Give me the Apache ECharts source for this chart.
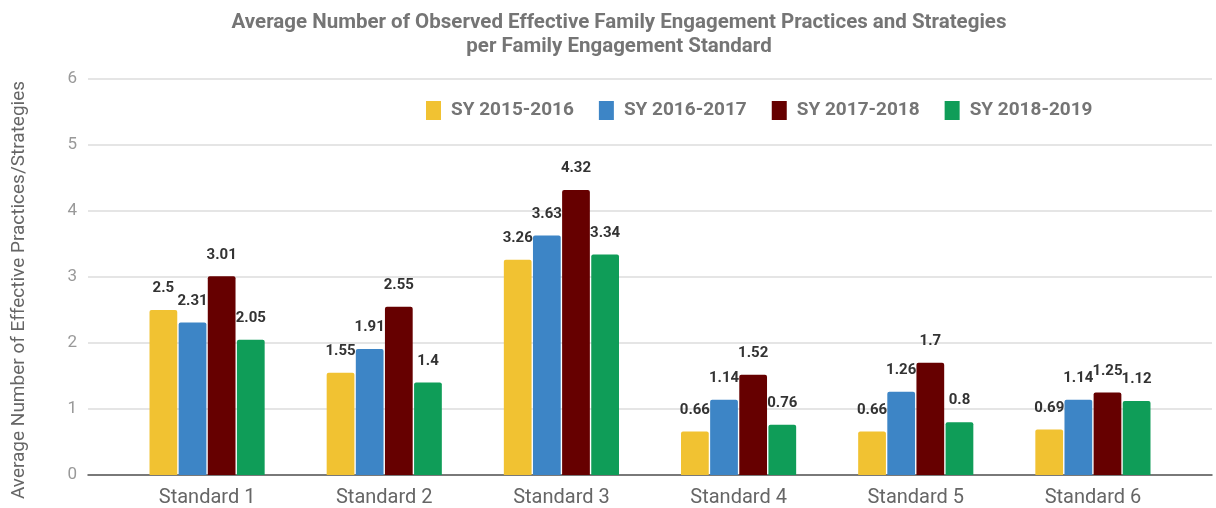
<!DOCTYPE html>
<html>
<head>
<meta charset="utf-8">
<script src="https://cdn.jsdelivr.net/npm/echarts@6/dist/echarts.min.js"></script>
<style>
  html, body { margin: 0; padding: 0; background: #fff; }
  #main { width: 1216px; height: 508px; }
</style>
</head>
<body>
<div id="main"></div>
<script>
// categories and values
const categories = ['Standard 1', 'Standard 2', 'Standard 3', 'Standard 4', 'Standard 5', 'Standard 6'];
const seriesNames = ['SY 2015-2016', 'SY 2016-2017', 'SY 2017-2018', 'SY 2018-2019'];
const sy1516 = [2.5, 1.55, 3.26, 0.66, 0.66, 0.69];
const sy1617 = [2.31, 1.91, 3.63, 1.14, 1.26, 1.14];
const sy1718 = [3.01, 2.55, 4.32, 1.52, 1.7, 1.25];
const sy1819 = [2.05, 1.4, 3.34, 0.76, 0.8, 1.12];
const colors = ['#F1C232', '#3D85C6', '#660000', '#0F9D58'];

const chart = echarts.init(document.getElementById('main'));

function barSeries(name, data) {
    return {
        name: name,
        type: 'bar',
        xAxisIndex: 1,
        yAxisIndex: 1,
        data: data,
        barGap: '5%',
        barCategoryGap: '35%',
        itemStyle: { borderRadius: [2, 2, 0, 0] },
        label: {
            show: true,
            position: 'top',
            distance: 14,
            color: '#333',
            fontWeight: 'bold',
            fontSize: 15,
            fontFamily: 'Roboto'
        }
    };
}

chart.setOption({
    animation: false,
    color: colors,
    textStyle: { fontFamily: 'Roboto' },
    title: {
        text: 'Average Number of Observed Effective Family Engagement Practices and Strategies\nper Family Engagement Standard',
        left: 614,
        top: 6,
        textAlign: 'center',
        textStyle: {
            color: '#757575',
            fontSize: 20.5,
            fontWeight: 'bold',
            lineHeight: 24,
            fontFamily: 'Roboto'
        }
    },
    legend: {
        data: seriesNames,
        left: 421,
        top: 96,
        itemWidth: 15,
        itemHeight: 19,
        itemGap: 25,
        icon: 'rect',
        textStyle: {
            color: '#757575',
            fontSize: 19,
            fontWeight: 'bold',
            fontFamily: 'Roboto',
            padding: [0, 0, 0, 5]
        }
    },
    // grid 0: gridlines and y labels (wider), grid 1: bars
    grid: [
        { left: 88, right: 4, top: 79, bottom: 33 },
        { left: 118.5, right: 34.5, top: 79, bottom: 33 }
    ],
    xAxis: [{
        type: 'category',
        gridIndex: 0,
        data: categories,
        axisLine: { lineStyle: { color: '#555', width: 1.5 } },
        axisTick: { show: false },
        axisLabel: { show: false }
    }, {
        type: 'category',
        gridIndex: 1,
        data: categories,
        axisLine: { show: false },
        axisTick: { show: false },
        axisLabel: { color: '#666', fontSize: 20, margin: 13 }
    }],
    yAxis: [{
        type: 'value',
        gridIndex: 0,
        min: 0,
        max: 6,
        interval: 1,
        name: 'Average Number of Effective Practices/Strategies',
        nameLocation: 'middle',
        nameGap: 59,
        nameTextStyle: { color: '#666', fontSize: 19, padding: [0, 26, 0, 0] },
        axisLine: { show: false },
        axisTick: { show: false },
        axisLabel: { color: '#999', fontSize: 17, margin: 11 },
        splitLine: { lineStyle: { color: '#dcdcdc', width: 1.5 } }
    }, {
        type: 'value',
        gridIndex: 1,
        min: 0,
        max: 6,
        interval: 1,
        axisLine: { show: false },
        axisTick: { show: false },
        axisLabel: { show: false },
        splitLine: { show: false }
    }],
    series: [
        barSeries(seriesNames[0], sy1516),
        barSeries(seriesNames[1], sy1617),
        barSeries(seriesNames[2], sy1718),
        barSeries(seriesNames[3], sy1819)
    ]
});
</script>
</body>
</html>
